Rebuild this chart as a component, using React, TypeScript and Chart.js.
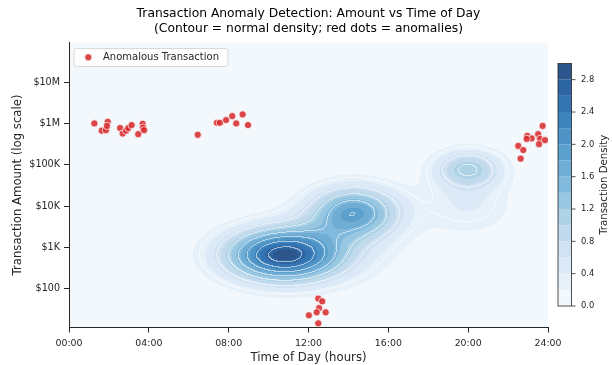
import React, { useEffect, useRef } from 'react';
import { Chart, registerables } from 'chart.js';
Chart.register(...registerables);

// ---------- data ----------
const anomalyHours = [
  1.27, 1.64, 1.85, 1.94, 1.9, 2.56, 2.69, 2.86, 2.97, 3.14, 3.47, 3.69, 3.71, 3.76,
  6.45, 7.41, 7.56, 7.87, 8.18, 8.38, 8.7, 8.97,
  23.73, 22.96, 23.18, 23.51, 23.6, 23.85, 23.55, 22.51, 22.76, 22.63, 22.93,
  12.49, 12.69, 12.53, 12.41, 12.02, 12.86, 12.49,
];
const anomalyAmounts = [
  1.02e6, 6.8e5, 7.0e5, 1.12e6, 8.9e5, 7.9e5, 5.8e5, 6.8e5, 7.9e5, 9.3e5, 5.6e5, 1.0e6, 8.1e5, 7.0e5,
  5.4e5, 1.06e6, 1.06e6, 1.23e6, 1.54e6, 1.02e6, 1.69e6, 9.3e5,
  8.9e5, 5.1e5, 4.4e5, 5.6e5, 4.3e5, 4.0e5, 3.2e5, 2.9e5, 2.3e5, 1.42e5, 4.3e5,
  56, 48, 33, 26, 22, 26, 14,
];

const xTickValues = [0, 4, 8, 12, 16, 20, 24];
const xTickLabels = ['00:00', '04:00', '08:00', '12:00', '16:00', '20:00', '24:00'];
const yTickValues = [100, 1e3, 1e4, 1e5, 1e6, 1e7];
const yTickLabels = ['$100', '$1K', '$10K', '$100K', '$1M', '$10M'];

// normal-transaction density clusters (hour, log10 amount)
const clusterHour = [10.7, 14.3, 20.0, 13.0, 20.0];
const clusterLogAmount = [2.8, 3.85, 4.9, 3.0, 4.0];
const clusterHourSpread = [1.96, 1.57, 1.2, 2.5, 1.6];
const clusterLogSpread = [0.44, 0.44, 0.33, 0.6, 0.5];
const clusterPeak = [2.7, 1.75, 1.1, 0.35, 0.4];

const densityLevels = [0, 0.2, 0.4, 0.6, 0.8, 1.0, 1.2, 1.4, 1.6, 1.8, 2.0, 2.2, 2.4, 2.6, 2.8, 3.0];
const lineLevels = [0.3, 0.7, 1.1, 1.5, 1.9, 2.3, 2.7];
const colorbarTicks = [0, 0.4, 0.8, 1.2, 1.6, 2.0, 2.4, 2.8];

const FONT = "'DejaVu Sans', 'Liberation Sans', sans-serif";
const TEXT = '#262626';

const BLUES = [
  [247, 251, 255], [222, 235, 247], [198, 219, 239], [158, 202, 225], [107, 174, 214],
  [66, 146, 198], [33, 113, 181], [8, 81, 156], [8, 48, 107],
];
function blues(t: number) {
  const p = Math.max(0, Math.min(1, t)) * 8;
  const i = Math.min(7, Math.floor(p));
  const f = p - i;
  return BLUES[i].map((c, k) => c + (BLUES[i + 1][k] - c) * f);
}
const FILL_ALPHA = 0.85;
const nBands = densityLevels.length - 1;
const bandColors = Array.from({ length: nBands }, (_, i) =>
  blues((i + 0.5) / nBands).map((c) => Math.round(c * FILL_ALPHA + 255 * (1 - FILL_ALPHA)))
);

function density(h: number, l: number) {
  let s = 0;
  for (let k = 0; k < clusterHour.length; k++) {
    const dh = (h - clusterHour[k]) / clusterHourSpread[k];
    const dl = (l - clusterLogAmount[k]) / clusterLogSpread[k];
    s += clusterPeak[k] * Math.exp(-0.5 * (dh * dh + dl * dl));
  }
  return s;
}
function bandOf(v: number) {
  for (let i = nBands - 1; i >= 0; i--) if (v >= densityLevels[i]) return i;
  return 0;
}

const densityPlugin = {
  id: 'densityContour',
  beforeDraw(chart: any) {
    const { ctx, chartArea, scales } = chart;
    const x0 = Math.round(chartArea.left);
    const y0 = Math.round(chartArea.top);
    const w = Math.round(chartArea.right) - x0;
    const h = Math.round(chartArea.bottom) - y0;
    const d = new Float32Array(w * h);
    for (let j = 0; j < h; j++) {
      const l = Math.log10(scales.y.getValueForPixel(y0 + j + 0.5));
      for (let i = 0; i < w; i++) {
        const hr = scales.x.getValueForPixel(x0 + i + 0.5);
        d[j * w + i] = density(hr, l);
      }
    }
    const img = ctx.createImageData(w, h);
    for (let j = 0; j < h; j++) {
      for (let i = 0; i < w; i++) {
        const idx = j * w + i;
        const v = d[idx];
        const c = bandColors[bandOf(v)];
        let r = c[0], g = c[1], b = c[2];
        const vr = i + 1 < w ? d[idx + 1] : v;
        const vd = j + 1 < h ? d[idx + w] : v;
        let onLine = false;
        for (const L of lineLevels) {
          if ((v - L) * (vr - L) < 0 || (v - L) * (vd - L) < 0) { onLine = true; break; }
        }
        if (onLine) {
          const a = 0.55;
          r = r * (1 - a) + 255 * a; g = g * (1 - a) + 255 * a; b = b * (1 - a) + 255 * a;
        }
        const p = idx * 4;
        img.data[p] = r; img.data[p + 1] = g; img.data[p + 2] = b; img.data[p + 3] = 255;
      }
    }
    ctx.putImageData(img, x0, y0);
  },
  afterDraw(chart: any) {
    const { ctx, chartArea } = chart;
    const cx = (chartArea.left + chartArea.right) / 2;
    ctx.save();
    ctx.fillStyle = '#000';
    ctx.textAlign = 'center';
    ctx.textBaseline = 'middle';
    ctx.font = `12.3px ${FONT}`;
    ctx.fillText('Transaction Anomaly Detection: Amount vs Time of Day', cx, 13.5);
    ctx.fillText('(Contour = normal density; red dots = anomalies)', cx, 29);

    ctx.fillStyle = TEXT;
    ctx.font = `11.7px ${FONT}`;
    ctx.fillText('Time of Day (hours)', cx, 358);
    ctx.save();
    ctx.translate(18, (chartArea.top + chartArea.bottom) / 2);
    ctx.rotate(-Math.PI / 2);
    ctx.fillText('Transaction Amount (log scale)', 0, 0);
    ctx.restore();

    // legend
    const lx = 74, ly = 48.5, lw = 154, lh = 18;
    ctx.beginPath();
    ctx.roundRect(lx, ly, lw, lh, 2.5);
    ctx.fillStyle = 'rgba(255,255,255,0.85)';
    ctx.fill();
    ctx.strokeStyle = '#d0d0d0';
    ctx.lineWidth = 0.8;
    ctx.stroke();
    ctx.beginPath();
    ctx.arc(88.3, 57.3, 3.6, 0, Math.PI * 2);
    ctx.fillStyle = 'rgba(214,39,40,0.85)';
    ctx.fill();
    ctx.strokeStyle = 'rgba(255,255,255,0.9)';
    ctx.lineWidth = 0.8;
    ctx.stroke();
    ctx.fillStyle = TEXT;
    ctx.textAlign = 'left';
    ctx.font = `10px ${FONT}`;
    ctx.fillText('Anomalous Transaction', 103, 57.3);

    // colorbar
    const cbL = 558, cbR = 571.5, cbT = 63.5, cbB = 306;
    const vmax = densityLevels[densityLevels.length - 1];
    const yOf = (v: number) => cbB - (v / vmax) * (cbB - cbT);
    for (let i = 0; i < nBands; i++) {
      const c = bandColors[i];
      ctx.fillStyle = `rgb(${c[0]},${c[1]},${c[2]})`;
      const ya = yOf(densityLevels[i + 1]);
      const yb = yOf(densityLevels[i]);
      ctx.fillRect(cbL, ya, cbR - cbL, yb - ya);
    }
    ctx.strokeStyle = TEXT;
    ctx.lineWidth = 0.8;
    ctx.strokeRect(cbL, cbT, cbR - cbL, cbB - cbT);
    ctx.font = `8.4px ${FONT}`;
    ctx.textAlign = 'left';
    ctx.textBaseline = 'middle';
    ctx.fillStyle = TEXT;
    for (const t of colorbarTicks) {
      const y = yOf(t);
      ctx.beginPath();
      ctx.moveTo(cbR, y);
      ctx.lineTo(cbR + 4, y);
      ctx.stroke();
      ctx.fillText(t.toFixed(1), cbR + 9.5, y);
    }
    ctx.save();
    ctx.translate(604, (cbT + cbB) / 2);
    ctx.rotate(-Math.PI / 2);
    ctx.textAlign = 'center';
    ctx.font = `10.2px ${FONT}`;
    ctx.fillText('Transaction Density', 0, 0);
    ctx.restore();
    ctx.restore();
  },
};

export default function App() {
  const ref = useRef<HTMLCanvasElement>(null);
  useEffect(() => {
    if (!ref.current) return;
    const points = anomalyHours.map((h, i) => ({ x: h, y: anomalyAmounts[i] }));
    const chart = new Chart(ref.current, {
      type: 'scatter',
      data: {
        datasets: [
          {
            label: 'Anomalous Transaction',
            data: points,
            pointRadius: 3.6,
            pointBackgroundColor: 'rgba(214,39,40,0.85)',
            pointBorderColor: 'rgba(255,255,255,0.9)',
            pointBorderWidth: 0.8,
          },
        ],
      },
      options: {
        animation: false,
        responsive: false,
        devicePixelRatio: 1,
        layout: { padding: { top: 42.5, right: 64, left: 0, bottom: 0 } },
        plugins: { legend: { display: false }, tooltip: { enabled: false }, title: { display: false } },
        scales: {
          x: {
            type: 'linear',
            min: 0,
            max: 24,
            afterBuildTicks: (s: any) => { s.ticks = xTickValues.map((v) => ({ value: v })); },
            afterFit: (s: any) => { s.height = 37.5; },
            ticks: {
              callback: (v: any) => xTickLabels[xTickValues.indexOf(Number(v))] ?? '',
              font: { family: FONT, size: 9.4 },
              color: TEXT,
              padding: 5,
              maxRotation: 0,
              autoSkip: false,
            },
            grid: { display: true, drawOnChartArea: false, drawTicks: true, tickLength: 5, color: TEXT, tickWidth: 1 },
            border: { display: true, color: TEXT, width: 1 },
          },
          y: {
            type: 'logarithmic',
            min: 11.1,
            max: 9.5e7,
            afterBuildTicks: (s: any) => { s.ticks = yTickValues.map((v) => ({ value: v })); },
            afterFit: (s: any) => { s.width = 69; },
            ticks: {
              callback: (v: any) => yTickLabels[yTickValues.indexOf(Number(v))] ?? '',
              font: { family: FONT, size: 9.6 },
              color: TEXT,
              padding: 4,
              autoSkip: false,
            },
            grid: { display: true, drawOnChartArea: false, drawTicks: true, tickLength: 5, color: TEXT, tickWidth: 1 },
            border: { display: true, color: TEXT, width: 1 },
          },
        },
      },
      plugins: [densityPlugin],
    } as any);
    return () => chart.destroy();
  }, []);
  return (
    <div style={{ position: 'absolute', left: 0, top: 0, width: 612, height: 365 }}>
      <canvas ref={ref} width={612} height={365} style={{ width: 612, height: 365, display: 'block' }} />
    </div>
  );
}
